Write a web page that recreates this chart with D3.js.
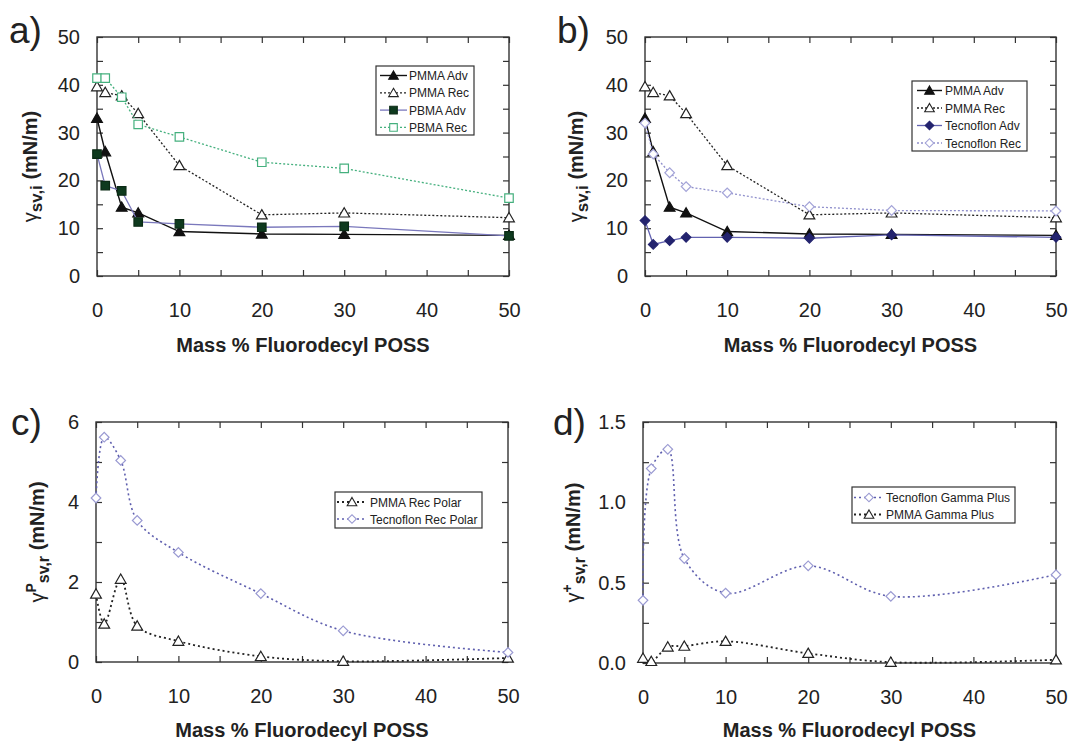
<!DOCTYPE html>
<html>
<head>
<meta charset="utf-8">
<script src="https://cdn.jsdelivr.net/npm/d3@7"></script>
<style>
  body { margin: 0; background: #fff; }
  text { font-family: "Liberation Sans", Arial, sans-serif; }
</style>
</head>
<body>
<div id="chart"></div>
<script>
// mass % fluorodecyl POSS
var massPct = [0, 1, 3, 5, 10, 20, 30, 50];

// panel a / b (mN/m)
var pmmaAdv = [33.0, 26.0, 14.4, 13.2, 9.3, 8.8, 8.7, 8.5];
var pmmaRec = [39.6, 38.4, 37.7, 34.0, 23.1, 12.8, 13.2, 12.2];
var pbmaAdv = [25.5, 18.9, 17.8, 11.3, 10.9, 10.2, 10.4, 8.4];
var pbmaRec = [41.4, 41.4, 37.4, 31.7, 29.1, 23.8, 22.5, 16.3];
var tecAdv = [11.6, 6.6, 7.4, 8.1, 8.1, 7.9, 8.6, 8.1];
var tecRec = [32.0, 25.5, 21.6, 18.7, 17.4, 14.5, 13.7, 13.6];

// panel c
var pmmaRecPolar = [1.70, 0.95, 2.07, 0.90, 0.52, 0.14, 0.02, 0.10];
var tecRecPolar = [4.10, 5.62, 5.04, 3.54, 2.74, 1.71, 0.78, 0.24];

// panel d
var tecGammaPlus = [0.39, 1.21, 1.33, 0.65, 0.435, 0.605, 0.415, 0.55];
var pmmaGammaPlus = [0.03, 0.01, 0.10, 0.105, 0.135, 0.06, 0.005, 0.02];

var width = 1069,
  height = 741,
  svg = d3
    .select("#chart")
    .append("svg")
    .attr("width", width)
    .attr("height", height);

var triangle = d3.symbol().type(d3.symbolTriangle);
var square = d3.symbol().type(d3.symbolSquare);

function marker(g, kind, x, y, s) {
  var p;
  if (kind == "tri") {
    p = g.append("path").attr("d", triangle.size(50 * s)())
      .attr("transform", `translate(${x},${y + 1})`);
  } else if (kind == "sq") {
    p = g.append("path").attr("d", square.size(72 * s)())
      .attr("transform", `translate(${x},${y})`);
  } else {
    p = g.append("path").attr("d", square.size(46 * s)())
      .attr("transform", `translate(${x},${y}) rotate(45)`);
  }
  return p;
}

function panel(opt) {
  var g = svg.append("g").attr("transform", `translate(${opt.left},${opt.top})`);
  var iw = opt.w, ih = opt.h;

  var x = d3.scaleLinear().domain([0, 50]).range([0, iw]);
  var y = d3.scaleLinear().domain(opt.yDomain).range([ih, 0]);

  var xt = d3.range(0, 51, 5);
  var yt = d3.range(opt.yDomain[0], opt.yDomain[1] + opt.yStep / 2, opt.yStep);

  function styleAxis(sel) {
    sel.select(".domain").remove();
    sel.selectAll(".tick line").attr("stroke", "#333").attr("stroke-width", 1.2);
    sel.selectAll(".tick text")
      .style("font-size", "20px")
      .style("font-family", "Liberation Sans, Arial, sans-serif")
      .attr("fill", "#222");
  }

  g.append("g")
    .attr("transform", `translate(0,${ih})`)
    .call(d3.axisBottom(x).tickValues(xt).tickSize(-6).tickPadding(27)
      .tickFormat(function(d){ return d % 10 == 0 ? d : ""; }))
    .call(styleAxis);
  g.append("g")
    .call(d3.axisTop(x).tickValues(xt).tickSize(-6).tickFormat(""))
    .call(styleAxis);
  g.append("g")
    .call(d3.axisLeft(y).tickValues(yt).tickSize(-6).tickPadding(17)
      .tickFormat(function(d){
        return opt.yLabels.some(function(v){ return Math.abs(v - d) < 1e-9; }) ? opt.yFormat(d) : "";
      }))
    .call(styleAxis);
  g.append("g")
    .attr("transform", `translate(${iw},0)`)
    .call(d3.axisRight(y).tickValues(yt).tickSize(-6).tickFormat(""))
    .call(styleAxis);

  g.append("rect")
    .attr("width", iw)
    .attr("height", ih)
    .attr("fill", "none")
    .attr("stroke", "#333")
    .attr("stroke-width", 1.4);

  // series
  opt.series.forEach(function(s){
    var line = d3.line()
      .x(function(d, i){ return x(massPct[i]); })
      .y(function(d){ return y(d); })
      .curve(opt.smooth ? d3.curveCatmullRom.alpha(0.5) : d3.curveLinear);
    g.append("path")
      .datum(s.values)
      .attr("d", line)
      .attr("fill", "none")
      .attr("stroke", s.line)
      .attr("stroke-width", s.lw)
      .attr("stroke-dasharray", s.dash);
    s.values.forEach(function(v, i){
      marker(g, s.shape, x(massPct[i]), y(v), 1)
        .attr("fill", s.fill)
        .attr("stroke", s.stroke)
        .attr("stroke-width", 1.2);
    });
  });

  // axis titles
  g.append("text")
    .attr("x", iw / 2)
    .attr("y", ih + opt.xTitleY)
    .attr("text-anchor", "middle")
    .style("font-size", "20px")
    .style("font-weight", "bold")
    .attr("fill", "#222")
    .text("Mass % Fluorodecyl POSS");

  var yt2 = g.append("text")
    .attr("transform", `translate(${opt.yTitleX},${ih / 2 + opt.yTitleShift}) rotate(-90)`)
    .attr("text-anchor", "middle")
    .style("font-size", "20px")
    .style("font-weight", "bold")
    .attr("fill", "#222");
  yt2.append("tspan").style("font-weight", "normal").text("\u03b3");
  if (opt.ySup) {
    yt2.append("tspan").attr("dy", -8).style("font-size", "14px").text(opt.ySup);
    yt2.append("tspan").attr("dy", 13).style("font-size", "16px").text(opt.ySub);
    yt2.append("tspan").attr("dy", -5).text(" (mN/m)");
  } else {
    yt2.append("tspan").attr("dy", 5).style("font-size", "17px").text(opt.ySub);
    yt2.append("tspan").attr("dy", -5).text(" (mN/m)");
  }

  // panel letter
  svg.append("text")
    .attr("x", opt.letterX)
    .attr("y", opt.letterY)
    .style("font-size", "37px")
    .attr("fill", "#222")
    .text(opt.letter);

  // legend
  var L = opt.legend;
  var lg = svg.append("g").attr("transform", `translate(${L.x},${L.y})`);
  lg.append("rect")
    .attr("width", L.w)
    .attr("height", L.h)
    .attr("fill", "#fff")
    .attr("stroke", "#333")
    .attr("stroke-width", 1.2);
  L.order.forEach(function(k, r){
    var s = opt.series[k];
    var ry = L.row0 + r * L.rowH;
    lg.append("line")
      .attr("x1", L.l0).attr("x2", L.l1)
      .attr("y1", ry).attr("y2", ry)
      .attr("stroke", s.line)
      .attr("stroke-width", s.lw)
      .attr("stroke-dasharray", s.dash);
    marker(lg, s.shape, (L.l0 + L.l1) / 2, ry, 0.8)
      .attr("fill", s.fill)
      .attr("stroke", s.stroke)
      .attr("stroke-width", 1.1);
    lg.append("text")
      .attr("x", L.tx)
      .attr("y", ry + 4.5)
      .style("font-size", "12px")
      .attr("fill", "#222")
      .text(s.name);
  });
}

var blackSolid = { line: "#111", lw: 1.4, dash: null };
var blackDot = { line: "#222", lw: 1.3, dash: "2,2" };

panel({
  letter: "a)", letterX: 9, letterY: 43,
  left: 97, top: 37, w: 412, h: 239,
  yDomain: [0, 50], yStep: 5, yLabels: [0, 10, 20, 30, 40, 50], yFormat: d3.format("d"),
  ySub: "sv,i", yTitleX: -60, yTitleShift: 10, xTitleY: 76,
  smooth: false,
  series: [
    Object.assign({ name: "PMMA Adv", values: pmmaAdv, shape: "tri", fill: "#111", stroke: "#111" }, blackSolid),
    Object.assign({ name: "PMMA Rec", values: pmmaRec, shape: "tri", fill: "#fff", stroke: "#222" }, blackDot),
    { name: "PBMA Adv", values: pbmaAdv, shape: "sq", fill: "#0e3a1e", stroke: "#0a2a14", line: "#7a78bc", lw: 1.3, dash: null },
    { name: "PBMA Rec", values: pbmaRec, shape: "sq", fill: "#fff", stroke: "#45b07e", line: "#45b07e", lw: 1.3, dash: "2,2" }
  ],
  legend: { x: 376, y: 66, w: 98, h: 69, row0: 9.5, rowH: 17.3, l0: 4, l1: 31, tx: 33, order: [0, 1, 2, 3] }
});

panel({
  letter: "b)", letterX: 557, letterY: 43,
  left: 645, top: 37, w: 411, h: 239,
  yDomain: [0, 50], yStep: 5, yLabels: [0, 10, 20, 30, 40, 50], yFormat: d3.format("d"),
  ySub: "sv,i", yTitleX: -62, yTitleShift: 10, xTitleY: 76,
  smooth: false,
  series: [
    Object.assign({ name: "PMMA Adv", values: pmmaAdv, shape: "tri", fill: "#111", stroke: "#111" }, blackSolid),
    Object.assign({ name: "PMMA Rec", values: pmmaRec, shape: "tri", fill: "#fff", stroke: "#222" }, blackDot),
    { name: "Tecnoflon Adv", values: tecAdv, shape: "dia", fill: "#23236e", stroke: "#23236e", line: "#6262b0", lw: 1.3, dash: null },
    { name: "Tecnoflon Rec", values: tecRec, shape: "dia", fill: "#fff", stroke: "#a4a4d8", line: "#9090cc", lw: 1.3, dash: "2,2" }
  ],
  legend: { x: 912, y: 81, w: 115, h: 70, row0: 9.5, rowH: 17.5, l0: 5, l1: 30, tx: 33, order: [0, 1, 2, 3] }
});

panel({
  letter: "c)", letterX: 11, letterY: 435,
  left: 96, top: 422, w: 412, h: 240,
  yDomain: [0, 6], yStep: 1, yLabels: [0, 2, 4, 6], yFormat: d3.format("d"),
  ySup: "P", ySub: "sv,r", yTitleX: -52, yTitleShift: 0, xTitleY: 75,
  smooth: true,
  series: [
    { name: "PMMA Rec Polar", values: pmmaRecPolar, shape: "tri", fill: "#fff", stroke: "#222", line: "#222", lw: 1.8, dash: "2,3" },
    { name: "Tecnoflon Rec Polar", values: tecRecPolar, shape: "dia", fill: "#fff", stroke: "#9a9ad2", line: "#5e5eae", lw: 1.6, dash: "2,3" }
  ],
  legend: { x: 335, y: 492, w: 147, h: 36, row0: 10, rowH: 17, l0: 2, l1: 32, tx: 35, order: [0, 1] }
});

panel({
  letter: "d)", letterX: 553, letterY: 435,
  left: 643, top: 422, w: 413, h: 241,
  yDomain: [0, 1.5], yStep: 0.25, yLabels: [0, 0.5, 1, 1.5], yFormat: d3.format(".1f"),
  ySup: "+", ySub: "sv,r", yTitleX: -63, yTitleShift: 0, xTitleY: 74,
  smooth: true,
  series: [
    { name: "PMMA Gamma Plus", values: pmmaGammaPlus, shape: "tri", fill: "#fff", stroke: "#222", line: "#222", lw: 1.8, dash: "2,3" },
    { name: "Tecnoflon Gamma Plus", values: tecGammaPlus, shape: "dia", fill: "#fff", stroke: "#9a9ad2", line: "#5e5eae", lw: 1.6, dash: "2,3" }
  ],
  legend: { x: 852, y: 487, w: 163, h: 36, row0: 10.5, rowH: 17, l0: 2, l1: 32, tx: 34, order: [1, 0] }
});
</script>
</body>
</html>
